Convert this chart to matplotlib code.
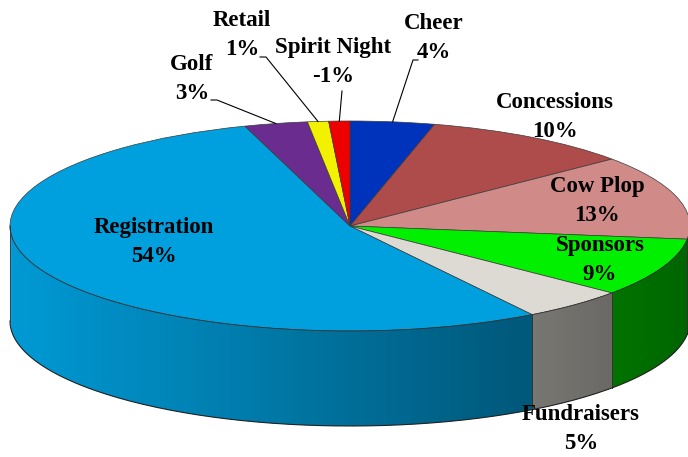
import numpy as np
import matplotlib.pyplot as plt
from matplotlib.colors import to_rgb

# Données (pourcentages)
categories = ["Cheer", "Concessions", "Cow Plop", "Sponsors", "Fundraisers",
              "Registration", "Golf", "Retail", "Spirit Night"]
percent = [4, 10, 13, 9, 5, 54, 3, 1, -1]
colors = ["#0033BB", "#AE4B4B", "#D08A88", "#00F000", "#DCDAD2",
          "#00A0DE", "#6B2C8F", "#F2F200", "#EE0000"]

W, H = 688, 457
CX, CY, RX, RY = 350, 226, 340, 105   # ellipse of the top face, in pixels
DEPTH = 95 / RY                        # wall height in data units

# label centres in pixels (from top-left)
label_pos = {
    "Cheer": (434, 38), "Concessions": (555, 117), "Cow Plop": (597, 201),
    "Sponsors": (600, 260), "Fundraisers": (581, 429), "Registration": (154, 242),
    "Golf": (192, 79), "Retail": (242, 35), "Spirit Night": (333, 62),
}
# leader line start points (pixels) for the small slices
leaders = {
    "Golf": [(211, 100), (217, 100)],
    "Retail": [(260, 57), (266, 57)],
    "Spirit Night": [(342, 91)],
    "Cheer": [(418, 60), (413, 60)],
}


def to_data(px, py):
    return (px - CX) / RX, (CY - py) / RY


fig = plt.figure(figsize=(W / 100, H / 100), dpi=100)
ax = fig.add_axes([0, 0, 1, 1])

sizes = np.abs(percent)
ax.pie(sizes, colors=colors, startangle=90, counterclock=False, radius=1,
       center=(0, 0), wedgeprops=dict(edgecolor="#3a3a3a", linewidth=0.5))
ax.set_aspect("auto")
x0, y0 = to_data(0, H)
x1, y1 = to_data(W, 0)
ax.set_xlim(x0, x1)
ax.set_ylim(y0, y1)
ax.axis("off")

# angles of each slice (clockwise from 12 o'clock)
cum = np.concatenate([[0], np.cumsum(sizes)]) / sizes.sum() * 360
starts = 90 - cum[:-1]
ends = 90 - cum[1:]


def shade(x):
    return 0.96 - 0.27 * (x + 1)


# side walls (front half only), shaded in thin overlapping strips
for i, c in enumerate(colors):
    lo, hi = max(ends[i], -180), min(starts[i], 0)
    if lo >= hi:
        continue
    base = np.array(to_rgb(c))
    n = max(2, int((hi - lo) / 1.0))
    ts = np.linspace(lo, hi, n + 1)
    step = ts[1] - ts[0]
    for t0 in ts[:-1]:
        t1 = min(t0 + 1.8 * step, hi)
        a, b = np.radians(t0), np.radians(t1)
        xs = [np.cos(a), np.cos(b), np.cos(b), np.cos(a)]
        ys = [np.sin(a), np.sin(b), np.sin(b) - DEPTH, np.sin(a) - DEPTH]
        col = np.clip(base * shade((xs[0] + xs[1]) / 2), 0, 1)
        ax.fill(xs, ys, facecolor=col, edgecolor="none", zorder=1)
    # vertical separators
    for t in (lo, hi):
        if -180 < t < 0:
            tr = np.radians(t)
            ax.plot([np.cos(tr)] * 2, [np.sin(tr), np.sin(tr) - DEPTH],
                    color="#333333", lw=0.6, zorder=2)

tb = np.radians(np.linspace(-180, 0, 200))
ax.plot(np.cos(tb), np.sin(tb) - DEPTH, color="#222222", lw=0.8, zorder=2)
ax.plot([-1, -1], [0, -DEPTH], color="#333333", lw=0.6, zorder=2)
ax.plot(np.cos(tb), np.sin(tb), color="#333333", lw=0.6, zorder=3)

# labels
for i, name in enumerate(categories):
    lx, ly = to_data(*label_pos[name])
    ax.text(lx, ly, f"{name}\n{percent[i]}%", ha="center", va="center",
            family=["Liberation Serif", "DejaVu Serif"], fontweight="bold",
            fontsize=16.5, linespacing=1.45, zorder=5)
    if name in leaders:
        mid = np.radians((starts[i] + ends[i]) / 2)
        pts = [to_data(*p) for p in leaders[name]] + [(np.cos(mid), np.sin(mid))]
        ax.plot([p[0] for p in pts], [p[1] for p in pts], color="black",
                lw=0.8, zorder=5)

plt.savefig("out.png", dpi=100)
